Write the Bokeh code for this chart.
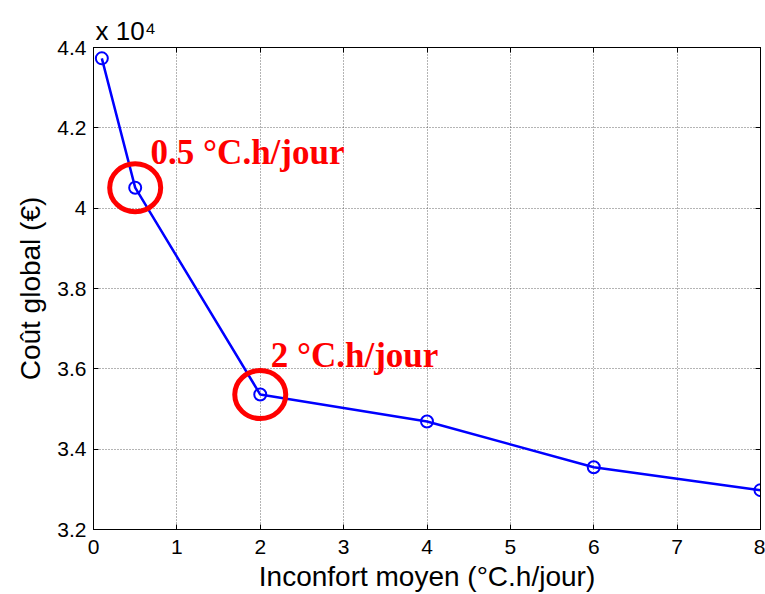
from bokeh.plotting import figure
from bokeh.models import Range1d, FixedTicker, LinearAxis, CustomJSTickFormatter, Title
from bokeh.core.properties import value
from bokeh.embed import file_html
from bokeh.resources import INLINE

# ---- data ----
inconfort = [0.1, 0.5, 2, 4, 6, 8]                       # °C.h/jour
cout_global = [43730, 40510, 35360, 34690, 33550, 32980]  # €
scale = 1e4
x_ticks = [0, 1, 2, 3, 4, 5, 6, 7, 8]
y_ticks = [3.2, 3.4, 3.6, 3.8, 4.0, 4.2, 4.4]
annot_idx = [1, 2]
annot_labels = ["0.5 °C.h/jour", "2 °C.h/jour"]
annot_x = [0.685, 2.126]
annot_y = [4.138, 3.633]

y = [c / scale for c in cout_global]

p = figure(width=765, height=594, output_backend="svg", toolbar_location=None,
           x_range=Range1d(0, 8), y_range=Range1d(3.2, 4.4),
           min_border_left=93, min_border_top=47, min_border_bottom=62, min_border_right=5,
           background_fill_color="white", border_fill_color="white")
p.outline_line_color = "black"

font = "Liberation Sans"
for ax in (p.xaxis[0], p.yaxis[0]):
    ax.major_label_text_font = font
    ax.major_label_text_font_size = "21px"
    ax.major_label_text_color = "black"
    ax.axis_label_text_font = font
    ax.axis_label_text_font_size = "28px"
    ax.axis_label_text_font_style = "normal"
    ax.axis_label_text_color = "black"
    ax.major_tick_in = 5
    ax.major_tick_out = 0
    ax.minor_tick_line_color = None
    ax.axis_line_color = "black"
    ax.major_tick_line_color = "black"

p.xaxis.ticker = FixedTicker(ticks=x_ticks)
p.yaxis.ticker = FixedTicker(ticks=y_ticks)
p.yaxis.formatter = CustomJSTickFormatter(code="return tick.toFixed(1).replace(/\\.0$/, '');")
p.xaxis.axis_label = "Inconfort moyen (°C.h/jour)"
p.yaxis.axis_label = "Coût global (€)"
p.xaxis.major_label_standoff = 10
p.xaxis.axis_label_standoff = 4
p.yaxis.major_label_standoff = 7
p.yaxis.axis_label_standoff = 8

for ticks, loc in ((y_ticks, "right"), (x_ticks, "above")):
    ax = LinearAxis(ticker=FixedTicker(ticks=ticks),
                    formatter=CustomJSTickFormatter(code="return '';"),
                    major_tick_in=5, major_tick_out=0, minor_tick_line_color=None,
                    major_label_standoff=0, major_label_text_font_size="1px",
                    axis_line_color="black", major_tick_line_color="black")
    p.add_layout(ax, loc)

p.add_layout(Title(text="x 10⁴", align="left", offset=2, text_font=font,
                   text_font_size="26px", text_font_style="normal",
                   text_color="black", standoff=4), "above")

p.xgrid.ticker = FixedTicker(ticks=x_ticks)
p.ygrid.ticker = FixedTicker(ticks=y_ticks)
for g in (p.xgrid[0], p.ygrid[0]):
    g.grid_line_color = "#444444"
    g.grid_line_dash = "1 2"
    g.grid_line_width = 1
    g.grid_line_alpha = 0.8

p.line(inconfort, y, line_color="blue", line_width=2.5)
p.scatter(inconfort, y, marker="circle", size=12, fill_color=None,
          line_color="blue", line_width=2)

ax_ = [inconfort[i] for i in annot_idx]
ay_ = [y[i] for i in annot_idx]
p.ellipse(x=ax_, y=ay_, width=51, height=48, width_units="screen", height_units="screen",
          fill_color=None, line_color="red", line_width=5)
p.text(x=annot_x, y=annot_y, text=annot_labels, text_font=value("Liberation Serif"),
       text_font_style="bold", text_font_size="35px", text_color="red",
       text_baseline="alphabetic", text_align="left")

open("out.html", "w").write(file_html(p, INLINE))
